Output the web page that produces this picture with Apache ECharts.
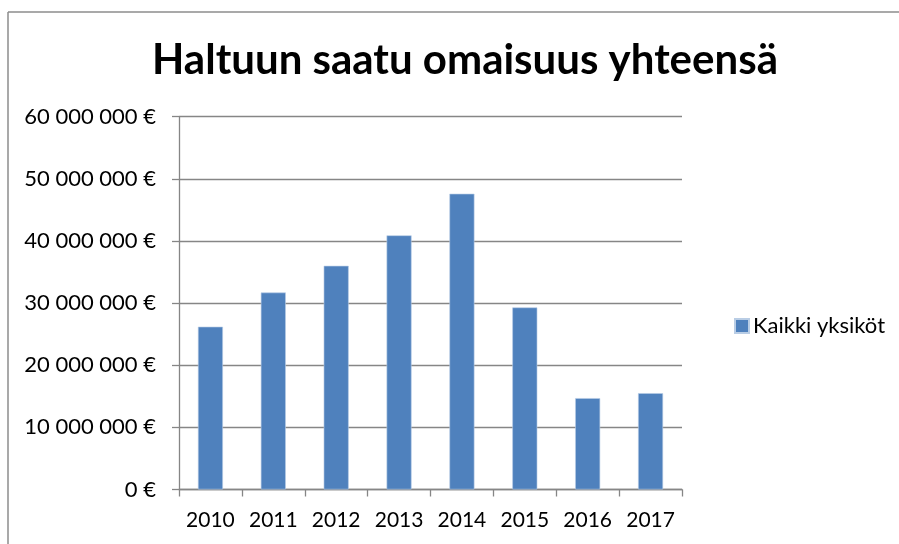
<!DOCTYPE html>
<html>
<head>
<meta charset="utf-8">
<script src="https://cdn.jsdelivr.net/npm/echarts@6/dist/echarts.min.js"></script>
<style>
html,body{margin:0;padding:0;background:#fff;}
#c{width:899px;height:544px;}
</style>
</head>
<body>
<div id="c"></div>
<script>
const categories = ['2010','2011','2012','2013','2014','2015','2016','2017'];
const values = [26200000, 31700000, 36000000, 40900000, 47600000, 29300000, 14700000, 15500000];
const seriesName = 'Kaikki yksiköt';
const titleText = 'Haltuun saatu omaisuus yhteensä';

function fmt(v){
  const s = String(Math.round(v)).replace(/\B(?=(\d{3})+(?!\d))/g, ' ');
  return s + ' €';
}

const chart = echarts.init(document.getElementById('c'));
chart.setOption({
  animation: false,
  backgroundColor: '#ffffff',
  textStyle: { fontFamily: 'Lato' },
  title: {
    text: titleText,
    left: 460, top: 34,
    textAlign: 'center',
    textStyle: { fontFamily: 'Lato', fontWeight: 'bold', fontSize: 42, color: '#000' }
  },
  legend: {
    data: [seriesName],
    left: 729, top: 310,
    icon: 'rect', itemWidth: 14, itemHeight: 14, itemGap: 8,
    textStyle: { fontFamily: 'Lato', fontSize: 22, color: '#000', padding: [0,0,0,-1] }
  },
  grid: { left: 179, right: 217, top: 116.7, bottom: 54.5, containLabel: false },
  xAxis: {
    type: 'category',
    data: categories,
    boundaryGap: true,
    axisLine: { lineStyle: { color: '#868686', width: 1.3 } },
    axisTick: { show: true, alignWithLabel: false, length: 7, lineStyle: { color: '#868686', width: 1.3 } },
    axisLabel: { fontFamily: 'Lato', fontSize: 21, color: '#000', margin: 20, interval: 0 }
  },
  yAxis: {
    type: 'value',
    min: 0, max: 60000000, interval: 10000000,
    axisLine: { show: true, lineStyle: { color: '#868686', width: 1.3 } },
    axisTick: { show: true, length: 7, lineStyle: { color: '#868686', width: 1.3 } },
    axisLabel: { fontFamily: 'Lato', fontSize: 22, color: '#000', margin: 23, formatter: fmt },
    splitLine: { show: true, lineStyle: { color: '#868686', width: 1.3 } }
  },
  series: [{
    name: seriesName,
    type: 'bar',
    data: values,
    barWidth: 25,
    itemStyle: { color: '#4f81bd', borderColor: '#b9cde5', borderWidth: 0.6 }
  }],
  graphic: [
    { type: 'line', shape: { x1: 8, y1: 12, x2: 899, y2: 12 }, style: { stroke: '#8c8c8c', lineWidth: 1.5 } },
    { type: 'line', shape: { x1: 8, y1: 12, x2: 8, y2: 544 }, style: { stroke: '#8c8c8c', lineWidth: 1.5 } }
  ]
});
</script>
</body>
</html>
